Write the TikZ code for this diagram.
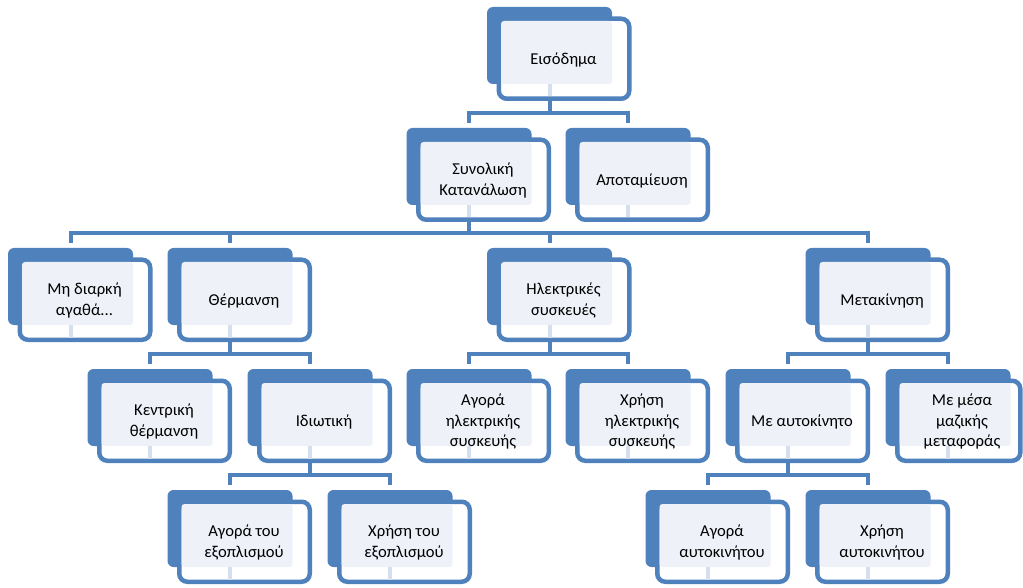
\documentclass[tikz,border=0pt]{standalone}
\usepackage{fontspec}
\setmainfont{Carlito}
\usetikzlibrary{calc}
\definecolor{bl}{HTML}{4F81BD}
\definecolor{lt}{HTML}{EEF2F8}
\definecolor{pale}{HTML}{D5DFED}
\tikzset{
 backbox/.style={fill=bl, rounded corners=6pt},
 frontbox/.style={draw=bl, line width=4.5pt, fill=white, rounded corners=8pt},
 lightbox/.style={fill=lt, rounded corners=3pt},
 txt/.style={font=\fontsize{16.6}{20.5}\selectfont, align=center, inner sep=0pt, text=black},
 conn/.style={draw=bl, line width=4pt},
 stem/.style={draw=pale, line width=4pt},
}
\newcommand\orgbox[5][82]{%
 \fill[backbox] (#3-62.5,#4) rectangle (#3+62.5,#4+77);
 \draw[frontbox] (#3-50.75,#4+11.75) rectangle (#3+#1-2.25,#4+91.75);
 \fill[lightbox] (#3-48.5,#4+14) rectangle (#3+62.5,#4+77);
 \draw[stem] (#3,#4+77) -- (#3,#4+89.5);
 \node[txt] (#2) at (#3+14,#4+52.5) {#5};
 \coordinate (#2-bot) at (#3,#4+91.75);
 \coordinate (#2-bus) at (#3,#4-15);
 \coordinate (#2-drop) at (#3,#4-5);
}
\begin{document}
\begin{tikzpicture}[x=1pt,y=-1pt]
\useasboundingbox[fill=white] (0,0) rectangle (1023,588);
% level 0
\orgbox{eis}{549.5}{7}{Εισόδημα}
% level 1
\orgbox{syn}{469}{128}{Συνολική\\Κατανάλωση}
\orgbox{apo}{628}{128}{Αποταμίευση}
% level 2
\orgbox{mid}{70.5}{248}{Μη διαρκή\\αγαθά...}
\orgbox{the}{230}{248}{Θέρμανση}
\orgbox{ile}{549.5}{248}{Ηλεκτρικές\\συσκευές}
\orgbox{met}{868}{248}{Μετακίνηση}
% level 3
\orgbox{ken}{150}{369}{Κεντρική\\θέρμανση}
\orgbox{idi}{310}{369}{Ιδιωτική}
\orgbox{agi}{469}{369}{Αγορά\\ηλεκτρικής\\συσκευής}
\orgbox{xri}{628}{369}{Χρήση\\ηλεκτρικής\\συσκευής}
\orgbox{aut}{788}{369}{Με αυτοκίνητο}
\orgbox[74.5]{mmm}{948}{369}{Με μέσα\\μαζικής\\μεταφοράς}
% level 4
\orgbox{age}{230}{490}{Αγορά του\\εξοπλισμού}
\orgbox{xre}{390}{490}{Χρήση του\\εξοπλισμού}
\orgbox{aga}{708}{490}{Αγορά\\αυτοκινήτου}
\orgbox{xra}{868}{490}{Χρήση\\αυτοκινήτου}
% connectors
\draw[conn] (eis-bot) -- (eis-bot |- syn-bus);
\draw[conn] (syn-drop) -- (syn-bus) -- (apo-bus) -- (apo-drop);
\draw[conn] (syn-bot) -- (syn-bot |- mid-bus);
\draw[conn] (mid-drop) -- (mid-bus) -- (met-bus) -- (met-drop);
\draw[conn] (the-bus) -- (the-drop);
\draw[conn] (ile-bus) -- (ile-drop);
\draw[conn] (the-bot) -- (the-bot |- ken-bus);
\draw[conn] (ken-drop) -- (ken-bus) -- (idi-bus) -- (idi-drop);
\draw[conn] (ile-bot) -- (ile-bot |- agi-bus);
\draw[conn] (agi-drop) -- (agi-bus) -- (xri-bus) -- (xri-drop);
\draw[conn] (met-bot) -- (met-bot |- aut-bus);
\draw[conn] (aut-drop) -- (aut-bus) -- (mmm-bus) -- (mmm-drop);
\draw[conn] (idi-bot) -- (idi-bot |- age-bus);
\draw[conn] (age-drop) -- (age-bus) -- (xre-bus) -- (xre-drop);
\draw[conn] (aut-bot) -- (aut-bot |- aga-bus);
\draw[conn] (aga-drop) -- (aga-bus) -- (xra-bus) -- (xra-drop);
\end{tikzpicture}
\end{document}
